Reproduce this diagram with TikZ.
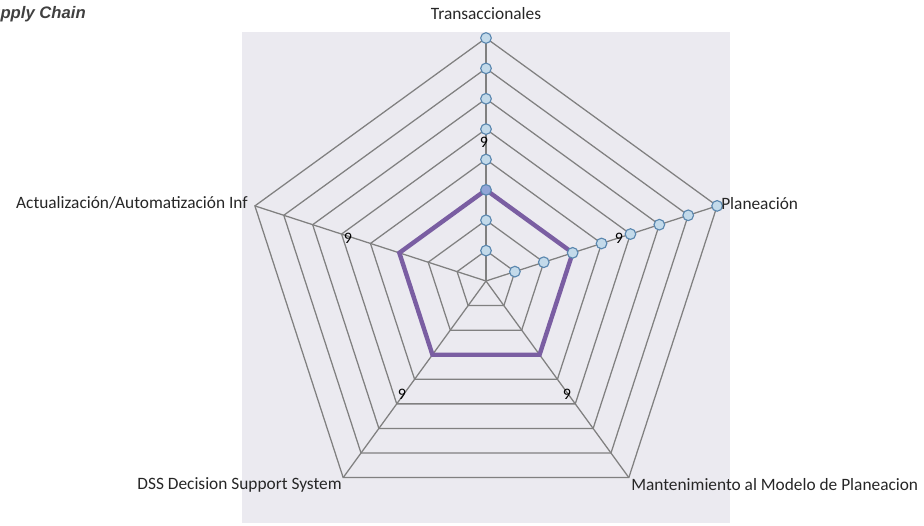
\documentclass[tikz,border=0pt]{standalone}
\usepackage{fontspec}
\setmainfont{Carlito}
\newfontfamily\titlefont{Liberation Sans}
\definecolor{plotbg}{RGB}{235,234,240}
\definecolor{gridc}{RGB}{128,128,128}
\definecolor{serpurple}{RGB}{122,94,162}
\definecolor{mkfill}{RGB}{195,218,234}
\definecolor{mkline}{RGB}{90,135,175}
\definecolor{mkdark}{RGB}{145,165,215}
\begin{document}
\begin{tikzpicture}[x=0.75pt,y=-0.75pt,
  grid/.style={draw=gridc,line width=0.95pt},
  series/.style={draw=serpurple,line width=3.3pt,line join=miter},
  mk/.style={circle,draw=mkline,fill=mkfill,line width=0.85pt,minimum size=8pt,inner sep=0pt},
  mkhi/.style={mk,fill=mkdark},
  axlabel/.style={font=\fontsize{13}{15}\selectfont,inner sep=0pt,text=black!85},
  vallabel/.style={font=\fontsize{12}{14}\selectfont,inner sep=0pt,text=black}]
\clip (0,0) rectangle (924,525);
\useasboundingbox (0,0) rectangle (924,525);

% plot area
\fill[plotbg] (242,32) rectangle (730,523);

% chart title, running off the left edge
\node[anchor=east,font=\titlefont\bfseries\itshape\fontsize{12.5}{14}\selectfont,text=black!75,inner sep=0pt] (title) at (86,14) {Supply Chain};

\begin{scope}[shift={(486,281)},yscale=-1]
  \coordinate (c) at (0,0);
  \foreach \a [count=\i] in {90,18,-54,-126,162}
    \foreach \j in {1,...,8}
      \coordinate (v\i-\j) at (\a:{\j*30.375});
  % rings
  \foreach \j in {1,...,8}
    \draw[grid] (v1-\j) -- (v2-\j) -- (v3-\j) -- (v4-\j) -- (v5-\j) -- cycle;
  % spokes
  \foreach \i in {1,...,5}
    \draw[grid] (c) -- (v\i-8);
  % data series at value 3
  \draw[series] (v1-3) -- (v2-3) -- (v3-3) -- (v4-3) -- (v5-3) -- cycle;
  % markers along the first two axes
  \foreach \j in {1,2,4,5,6,7,8}
    \node[mk] (ma-\j) at (v1-\j) {};
  \node[mkhi] (ma-3) at (v1-3) {};
  \foreach \j in {1,...,8}
    \node[mk] (mb-\j) at (v2-\j) {};
\end{scope}

% axis labels
\node[axlabel] (lt) at (486,14) {Transaccionales};
\node[axlabel,anchor=west] (lp) at (721,204) {Planeación};
\node[axlabel,anchor=east] (la) at (248,203) {Actualización/Automatización Inf};
\node[axlabel,anchor=east] (ld) at (342,485) {DSS Decision Support System};
\node[axlabel,anchor=west] (lm) at (631,485) {Mantenimiento al Modelo de Planeacion};

% value labels
\node[vallabel] (n1) at (484,142) {9};
\node[vallabel] (n2) at (619,238) {9};
\node[vallabel] (n3) at (348,238) {9};
\node[vallabel] (n4) at (402,394) {9};
\node[vallabel] (n5) at (567,394) {9};
\end{tikzpicture}
\end{document}
